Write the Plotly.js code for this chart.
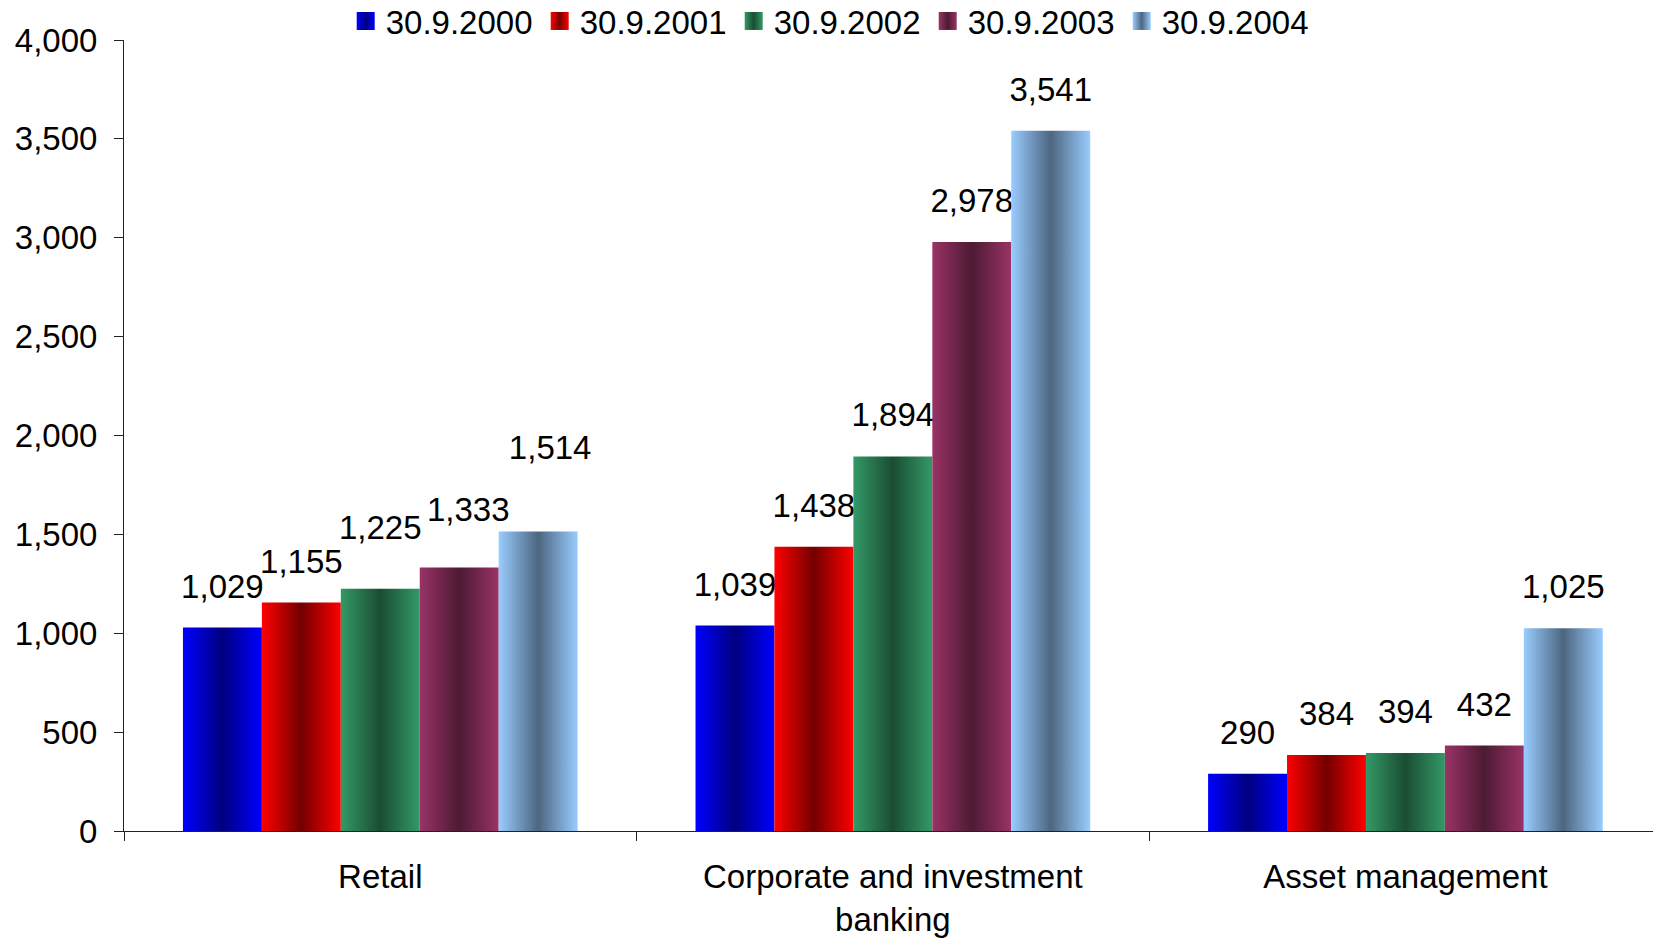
<!DOCTYPE html>
<html>
<head>
<meta charset="utf-8">
<script src="https://cdn.plot.ly/plotly-3.0.1.min.js"></script>
<style>
  html, body { margin: 0; padding: 0; background: #fff; }
  #chart { width: 1653px; height: 942px; }
</style>
</head>
<body>
<div id="chart"></div>
<script>
// ---- data ----
const categories = ['Retail', 'Corporate and investment<br>banking', 'Asset management'];
const seriesNames = ['30.9.2000', '30.9.2001', '30.9.2002', '30.9.2003', '30.9.2004'];
const v2000 = [1029, 1039, 290];
const v2001 = [1155, 1438, 384];
const v2002 = [1225, 1894, 394];
const v2003 = [1333, 2978, 432];
const v2004 = [1514, 3541, 1025];
const yTickVals = [0, 500, 1000, 1500, 2000, 2500, 3000, 3500, 4000];

// ---- styles ----
const edgeColors = ['#0000FF', '#FF0000', '#339966', '#993366', '#99CCFF'];
const centerColors = ['#000080', '#730000', '#1A4D33', '#4D1A33', '#4D6680'];
const FONT = 'Liberation Sans, Arial, sans-serif';
const FS = 33;
// manual label nudges (px) as in the original: key "series,point"
const labelNudges = { '2,0': [0, -20], '3,0': [9, -16], '4,0': [12, -43] };

const seriesValues = [v2000, v2001, v2002, v2003, v2004];
const traces = seriesValues.map((vals, i) => ({
  type: 'bar',
  name: seriesNames[i],
  x: categories,
  y: vals,
  marker: { color: edgeColors[i], line: { width: 0 } },
  text: vals.map(v => v.toLocaleString('en-US')),
  textposition: 'outside',
  textfont: { family: FONT, size: FS, color: '#000' },
  constraintext: 'none',
  cliponaxis: false,
  hoverinfo: 'skip'
}));

const layout = {
  width: 1653,
  height: 942,
  margin: { l: 124, r: 0, t: 40, b: 111, autoexpand: false },
  paper_bgcolor: '#fff',
  plot_bgcolor: '#fff',
  font: { family: FONT, size: FS, color: '#000' },
  barmode: 'group',
  bargap: 0.23,
  bargroupgap: 0,
  showlegend: true,
  legend: {
    orientation: 'h',
    x: 0.145, xanchor: 'left',
    y: 1.024, yanchor: 'middle',
    font: { family: FONT, size: FS, color: '#000' },
    entrywidth: 149,
    entrywidthmode: 'pixels',
    bgcolor: 'rgba(0,0,0,0)'
  },
  xaxis: {
    type: 'category',
    range: [-0.5, 2.483],
    showline: true, linecolor: '#222', linewidth: 1,
    ticks: 'outside', tickson: 'boundaries', ticklen: 9, tickcolor: '#222',
    ticklabelstandoff: 16,
    showgrid: false, zeroline: false,
    tickfont: { family: FONT, size: FS, color: '#000' },
    fixedrange: true
  },
  yaxis: {
    range: [0, 4000],
    tickvals: yTickVals,
    tickformat: ',',
    showline: true, linecolor: '#222', linewidth: 1,
    ticks: 'outside', ticklen: 9, tickcolor: '#222',
    ticklabelstandoff: 10,
    showgrid: false, zeroline: false,
    tickfont: { family: FONT, size: FS, color: '#000' },
    fixedrange: true
  }
};

Plotly.newPlot('chart', traces, layout, { displayModeBar: false, staticPlot: true }).then(gd => {
  const svg = gd.querySelector('svg.main-svg');
  const NS = 'http://www.w3.org/2000/svg';
  let defs = svg.querySelector('defs');
  if (!defs) { defs = document.createElementNS(NS, 'defs'); svg.insertBefore(defs, svg.firstChild); }
  edgeColors.forEach((c, i) => {
    const g = document.createElementNS(NS, 'linearGradient');
    g.setAttribute('id', 'barGrad' + i);
    g.setAttribute('x1', '0'); g.setAttribute('x2', '1');
    g.setAttribute('y1', '0'); g.setAttribute('y2', '0');
    [[0, c], [0.5, centerColors[i]], [1, c]].forEach(([o, col]) => {
      const s = document.createElementNS(NS, 'stop');
      s.setAttribute('offset', o);
      s.setAttribute('stop-color', col);
      g.appendChild(s);
    });
    defs.appendChild(g);
  });
  gd.querySelectorAll('.barlayer .trace').forEach((tr, i) => {
    tr.querySelectorAll('path').forEach(p => { p.style.fill = 'url(#barGrad' + i + ')'; });
    tr.querySelectorAll('.point').forEach((pt, j) => {
      const t = pt.querySelector('text.bartext');
      if (!t) return;
      const nudge = labelNudges[i + ',' + j] || [0, 0];
      const prev = t.getAttribute('transform') || '';
      t.setAttribute('transform', 'translate(' + nudge[0] + ',' + (nudge[1] - 20) + ') ' + prev);
    });
  });
  gd.querySelectorAll('.legend .traces').forEach((tr, i) => {
    tr.querySelectorAll('.legendpoints path').forEach(p => {
      p.setAttribute('d', 'M9,9H-9V-9H9Z');
      p.style.fill = 'url(#barGrad' + i + ')';
    });
  });
});
</script>
</body>
</html>
